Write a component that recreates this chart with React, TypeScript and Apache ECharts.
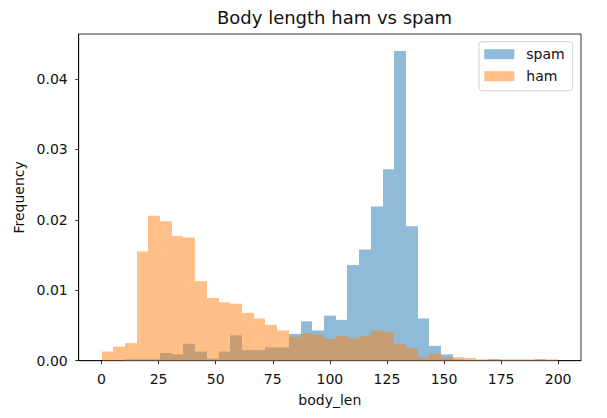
import React, { useEffect, useRef } from "react";
import * as echarts from "echarts";

// Histogram bins: np.linspace(0, 200, 40) -> 39 bins
const BIN_START = 0;
const BIN_END = 200;
const BIN_COUNT = 39;

const SPAM_DENSITY = [
  0, 0, 0.0002, 0.0002, 0.0002, 0.0011, 0.0009, 0.0024, 0.0013, 0.0003,
  0.0013, 0.0036, 0.0015, 0.0015, 0.0019, 0.0019, 0.0038, 0.0056, 0.0043, 0.0064,
  0.0058, 0.0136, 0.0158, 0.0219, 0.0272, 0.044, 0.0191, 0.006, 0.0021, 0.0009,
  0.0002, 0.0001, 0.0001, 0.0002, 0.0001, 0.0001, 0.0001, 0.0002, 0.0001,
];

const HAM_DENSITY = [
  0.0013, 0.002, 0.0025, 0.0155, 0.0206, 0.0198, 0.0177, 0.0175, 0.0113, 0.0089,
  0.0083, 0.0081, 0.0068, 0.006, 0.0051, 0.0043, 0.0034, 0.0039, 0.0037, 0.0031,
  0.0035, 0.0032, 0.0035, 0.0043, 0.0041, 0.0024, 0.0018, 0.0005, 0.001, 0.0005,
  0.0005, 0.0004, 0.0002, 0.0002, 0.0002, 0.0002, 0.0002, 0.0002, 0.0002,
];

const X_TICKS = [0, 25, 50, 75, 100, 125, 150, 175, 200];
const Y_TICKS = [0, 0.01, 0.02, 0.03, 0.04];

const SERIES_NAMES = ["spam", "ham"];

function toBins(values: number[]) {
  const w = (BIN_END - BIN_START) / BIN_COUNT;
  return values.map((v, i) => [BIN_START + i * w, BIN_START + (i + 1) * w, v]);
}

const renderItem = (params: any, api: any) => {
  const x0 = api.value(0);
  const x1 = api.value(1);
  const y = api.value(2);
  if (!y) return null;
  const p0 = api.coord([x0, y]);
  const p1 = api.coord([x1, 0]);
  const left = Math.round(p0[0]);
  const right = Math.round(p1[0]);
  return {
    type: "rect",
    shape: { x: left, y: p0[1], width: right - left, height: p1[1] - p0[1] },
    style: { fill: api.visual("color") },
  };
};

const FONT = "DejaVu Sans";
const TEXT = "#111";

export default function App() {
  const ref = useRef<HTMLDivElement>(null);
  useEffect(() => {
    if (!ref.current) return;
    const chart = echarts.init(ref.current, undefined, { renderer: "svg" });
    chart.setOption({
      animation: false,
      textStyle: { fontFamily: FONT },
      title: {
        text: "Body length ham vs spam",
        left: 329.5,
        textAlign: "center",
        top: 3,
        textStyle: { fontFamily: FONT, fontSize: 18, fontWeight: "normal", color: TEXT },
      },
      legend: {
        data: SERIES_NAMES,
        orient: "vertical",
        left: 479,
        top: 41.7,
        padding: [5.5, 8, 7.5, 5.3],
        itemWidth: 30,
        itemHeight: 10,
        itemGap: 8,
        icon: "rect",
        borderColor: "#d0d0d0",
        borderWidth: 1,
        borderRadius: 3,
        backgroundColor: "rgba(255,255,255,0.8)",
        textStyle: { fontFamily: FONT, fontSize: 14, lineHeight: 14, color: TEXT, padding: [0, 0, 0, 7] },
      },
      grid: { left: 78.7, right: 26, top: 34, bottom: 57.3, show: true, borderColor: "#000", borderWidth: 0.8 },
      xAxis: {
        type: "value",
        min: -10,
        max: 210,
        name: "body_len",
        nameLocation: "middle",
        nameGap: 32,
        nameTextStyle: { fontFamily: FONT, fontSize: 14, color: TEXT },
        axisLine: { show: true, onZero: false, lineStyle: { color: "#000", width: 0.8 } },
        axisTick: { show: true, inside: false, length: 3.5, lineStyle: { color: "#000", width: 0.8 }, customValues: X_TICKS },
        axisLabel: { fontFamily: FONT, fontSize: 14, color: TEXT, margin: 11, customValues: X_TICKS },
        splitLine: { show: false },
      },
      yAxis: {
        type: "value",
        min: 0,
        max: 0.0464,
        name: "Frequency",
        nameLocation: "middle",
        nameGap: 50,
        nameTextStyle: { fontFamily: FONT, fontSize: 14, color: TEXT },
        axisLine: { show: true, onZero: false, lineStyle: { color: "#000", width: 0.8 } },
        axisTick: { show: true, inside: false, length: 3.5, lineStyle: { color: "#000", width: 0.8 }, customValues: Y_TICKS },
        axisLabel: {
          fontFamily: FONT,
          fontSize: 14,
          color: TEXT,
          margin: 11,
          customValues: Y_TICKS,
          formatter: (v: number) => v.toFixed(2),
        },
        splitLine: { show: false },
      },
      series: [
        {
          name: SERIES_NAMES[0],
          type: "custom",
          renderItem,
          encode: { x: [0, 1], y: 2 },
          itemStyle: { color: "rgba(31,119,180,0.5)" },
          data: toBins(SPAM_DENSITY),
        },
        {
          name: SERIES_NAMES[1],
          type: "custom",
          renderItem,
          encode: { x: [0, 1], y: 2 },
          itemStyle: { color: "rgba(255,127,14,0.5)" },
          data: toBins(HAM_DENSITY),
        },
      ],
    });
    return () => chart.dispose();
  }, []);
  return (
    <div
      ref={ref}
      style={{ position: "fixed", left: 0, top: 0, width: 607, height: 418, background: "#fff" }}
    />
  );
}
